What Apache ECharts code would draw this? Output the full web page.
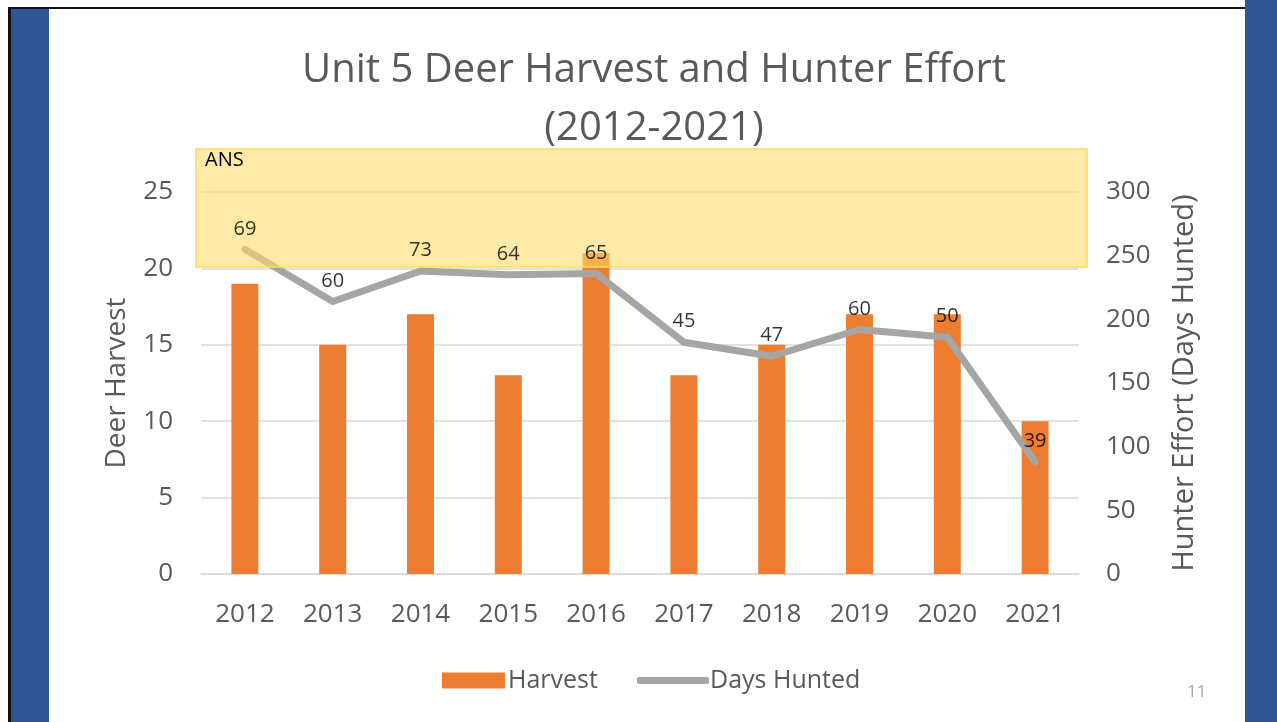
<!DOCTYPE html>
<html><head><meta charset="utf-8">
<script src="https://cdn.jsdelivr.net/npm/echarts@6/dist/echarts.min.js"></script>
<style>html,body{margin:0;padding:0;background:#fff}#c{width:1277px;height:722px}</style>
</head><body><div id="c"></div>
<script>
const years = ['2012','2013','2014','2015','2016','2017','2018','2019','2020','2021'];
const harvest = [19,15,17,13,21,13,15,17,17,10];
const daysHunted = [255,214,238,235,236,182,171,192,186,88];
const pointLabels = ['69','60','73','64','65','45','47','60','50','39'];
const leftTicks = {min:0,max:25,interval:5};
const rightTicks = {min:0,max:300,interval:50};

const FONT = 'Open Sans';
const GREY = '#595959';
const chart = echarts.init(document.getElementById('c'));
chart.setOption({
  backgroundColor:'#fff',
  animation:false,
  textStyle:{fontFamily:FONT},
  title:{
    text:'Unit 5 Deer Harvest and Hunter Effort\n(2012-2021)',
    left:649, textAlign:'center', top:37,
    textStyle:{fontFamily:FONT,fontSize:40,fontWeight:'normal',color:GREY,lineHeight:58}
  },
  legend:[
    {left:437, top:663, itemWidth:63, itemHeight:16, itemGap:0,
     textStyle:{fontFamily:FONT,fontSize:25,color:GREY,padding:[0,0,0,-2]},
     data:[{name:'Harvest',icon:'rect'}]},
    {left:632, top:663, itemWidth:72, itemHeight:7, itemGap:0,
     textStyle:{fontFamily:FONT,fontSize:25,color:GREY,padding:[0,0,0,-4]},
     data:[{name:'Days Hunted',icon:'roundRect',itemStyle:{color:'#A5A5A5'}}]}
  ],
  grid:{left:201,right:198,top:192,bottom:148},
  xAxis:{
    type:'category', data:years,
    axisLine:{show:true,lineStyle:{color:'#D9D9D9',width:1.5}},
    axisTick:{show:false},
    axisLabel:{fontFamily:FONT,fontSize:26,color:GREY,margin:28}
  },
  yAxis:[
    {type:'value',min:leftTicks.min,max:leftTicks.max,interval:leftTicks.interval,
     name:'Deer Harvest',nameLocation:'middle',nameGap:70,
     nameTextStyle:{fontFamily:FONT,fontSize:28,color:GREY},
     axisLabel:{fontFamily:FONT,fontSize:26,color:GREY,margin:28},
     splitLine:{lineStyle:{color:'#D9D9D9',width:1.5}}},
    {type:'value',min:rightTicks.min,max:rightTicks.max,interval:rightTicks.interval,
     name:'Hunter Effort (Days Hunted)',nameLocation:'middle',nameGap:91,
     nameTextStyle:{fontFamily:FONT,fontSize:29,color:GREY},
     axisLabel:{fontFamily:FONT,fontSize:26,color:GREY,margin:27},
     splitLine:{show:false}}
  ],
  series:[
    {name:'Harvest',type:'bar',data:harvest,barWidth:27,yAxisIndex:0,
     itemStyle:{color:'#ED7D31'}},
    {name:'Days Hunted',type:'line',data:daysHunted,yAxisIndex:1,
     symbol:'none',
     lineStyle:{color:'#A5A5A5',width:7,cap:'round',join:'round'},itemStyle:{color:'#A5A5A5'}},
    {name:'Days Hunted labels',type:'scatter',data:daysHunted,yAxisIndex:1,z:200,
     symbol:'circle',symbolSize:1,itemStyle:{color:'rgba(0,0,0,0)'},silent:true,
     label:{show:true,position:'top',distance:10,color:'#000',fontFamily:FONT,fontSize:20,
       formatter:p=>pointLabels[p.dataIndex]}}
  ],
  graphic:[
    {type:'rect',z:100,shape:{x:10,y:7,width:1236,height:2},style:{fill:'#111'}},
    {type:'rect',z:100,shape:{x:8,y:7,width:3,height:715},style:{fill:'#111'}},
    {type:'rect',z:100,shape:{x:11,y:9,width:38,height:713},style:{fill:'#2F5597'}},
    {type:'rect',z:100,shape:{x:1245,y:0,width:32,height:722},style:{fill:'#2F5597'}},
    {type:'rect',z:50,shape:{x:196,y:149,width:891,height:118},
     style:{fill:'rgba(255,217,102,0.58)',stroke:'#FFD966',lineWidth:1.5}},
    {type:'text',z:101,left:205,top:150,style:{text:'ANS',fontFamily:FONT,fontSize:20,fill:'#000'}},
    {type:'text',z:101,left:1187,top:684,style:{text:'11',fontFamily:FONT,fontSize:17,fill:'#A6A6A6'}}
  ]
});
</script></body></html>
